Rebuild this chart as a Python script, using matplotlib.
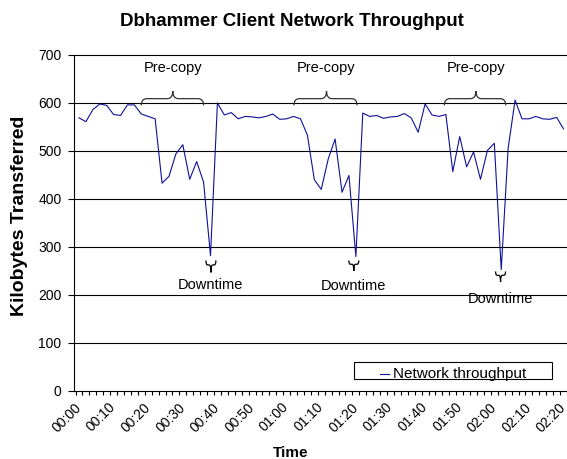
import numpy as np
import matplotlib
matplotlib.use('Agg')
import matplotlib.pyplot as plt
from matplotlib.path import Path
from matplotlib.patches import PathPatch, Rectangle

plt.rcParams['font.family'] = ['Liberation Sans', 'DejaVu Sans']

# ---- data (one sample every 2 s, 00:00 .. 02:20) ----
throughput = [568, 560, 585, 597, 594, 575, 573, 595, 595, 576,
              571, 566, 432, 446, 493, 512, 440, 477, 434, 281,
              599, 574, 579, 566, 571, 570, 568, 571, 576, 565,
              566, 571, 566, 532, 439, 419, 482, 524, 413, 448,
              279, 578, 571, 573, 567, 570, 571, 577, 568, 538,
              597, 574, 571, 575, 456, 529, 466, 497, 440, 500,
              515, 252, 505, 605, 566, 566, 571, 566, 565, 569,
              545]
time_labels = ['00:00', '00:10', '00:20', '00:30', '00:40', '00:50', '01:00',
               '01:10', '01:20', '01:30', '01:40', '01:50', '02:00', '02:10', '02:20']
label_step = 5  # one label every 5 samples
y_ticks = [0, 100, 200, 300, 400, 500, 600, 700]

# annotations: (start, end, tip) in sample index
precopy_spans = [(9.0, 18.0, 13.55), (31.05, 40.17, 35.76), (52.78, 61.65, 57.34)]
downtime_marks = [(19.06, 271, 246, 219), (39.7, 271, 249, 217), (60.9, 248, 226, 190)]


def brace(ax, x0, x1, xc, yb, ym, yt, dx, color='#333333', lw=0.9):
    verts = [(x0, yb), (x0, ym), (x0 + dx, ym),
             (xc - dx, ym), (xc, ym), (xc, yt),
             (xc, yt), (xc, ym), (xc + dx, ym),
             (x1 - dx, ym), (x1, ym), (x1, yb)]
    codes = [Path.MOVETO, Path.CURVE3, Path.CURVE3,
             Path.LINETO, Path.CURVE3, Path.CURVE3,
             Path.MOVETO, Path.CURVE3, Path.CURVE3,
             Path.LINETO, Path.CURVE3, Path.CURVE3]
    ax.add_patch(PathPatch(Path(verts, codes), fc='none', ec=color, lw=lw,
                           clip_on=False))


fig = plt.figure(figsize=(5.67, 4.59), dpi=100)
ax = fig.add_axes([74 / 567, 1 - 390.5 / 459, 493 / 567, 336 / 459])

x = np.arange(len(throughput))
ax.plot(x, throughput, color='#10109a', lw=0.8)

ax.set_xlim(-0.5, len(throughput) - 0.5)
ax.set_ylim(0, 700)

# y axis
ax.set_yticks(y_ticks)
ax.set_yticklabels([str(v) for v in y_ticks], fontsize=10)
for v in y_ticks[1:]:
    ax.axhline(v, color='black', lw=0.8, zorder=0, clip_on=False)
ax.tick_params(axis='y', direction='out', length=4, width=0.8, pad=5)

# x axis: ticks between categories, labels every 5 samples
# (invisible label ticks nudged left so the rotated text ends at the category)
ax.set_xticks(np.arange(0, len(throughput), label_step) - 0.72)
ax.set_xticklabels(time_labels, rotation=45, ha='right', va='top',
                   rotation_mode='anchor', fontsize=10)
ax.set_xticks(np.arange(-0.5, len(throughput), 1), minor=True)
ax.tick_params(axis='x', which='major', length=0, pad=7)
ax.tick_params(axis='x', which='minor', direction='out', length=3, width=0.8)

for s in ['top', 'right']:
    ax.spines[s].set_visible(False)
for s in ['left', 'bottom']:
    ax.spines[s].set_linewidth(0.8)

# pre-copy braces
for x0, x1, xc in precopy_spans:
    brace(ax, x0, x1, xc, 594, 608, 624, 0.8)
    ax.text(xc, 671, 'Pre-copy', ha='center', va='center', fontsize=10.5)

# downtime braces
for xc, yb, yt, ytext in downtime_marks:
    brace(ax, xc - 0.72, xc + 0.72, xc, yb, (yb + yt) / 2 + 3, yt, 0.25,
          color='black')
    ax.text(xc, ytext, 'Downtime', ha='center', va='center', fontsize=10.5)

# legend box
rect = Rectangle((0.568, 0.0342), 0.4016, 0.0506, transform=ax.transAxes,
                 fc='white', ec='black', lw=0.8, zorder=5)
ax.add_patch(rect)
ax.plot([0.6197, 0.638], [0.049, 0.049], transform=ax.transAxes,
        color='#10109a', lw=0.8, zorder=6)
t = ax.text(0.6477, 0.0375, 'Network throughput', transform=ax.transAxes,
            fontsize=11, va='baseline', ha='left', zorder=6)
t.set_clip_path(rect)

fig.text(292 / 567, 1 - 26 / 459, 'Dbhammer Client Network Throughput',
         ha='center', va='baseline', fontsize=13.5, fontweight='bold')
fig.text(20 / 567, 1 - 216 / 459, 'Kilobytes Transferred', rotation=90,
         ha='center', va='center', fontsize=14, fontweight='bold')
fig.text(291 / 567, 1 - 457 / 459, 'Time', ha='center', va='baseline',
         fontsize=11, fontweight='bold')

fig.savefig('out.png', dpi=100)
